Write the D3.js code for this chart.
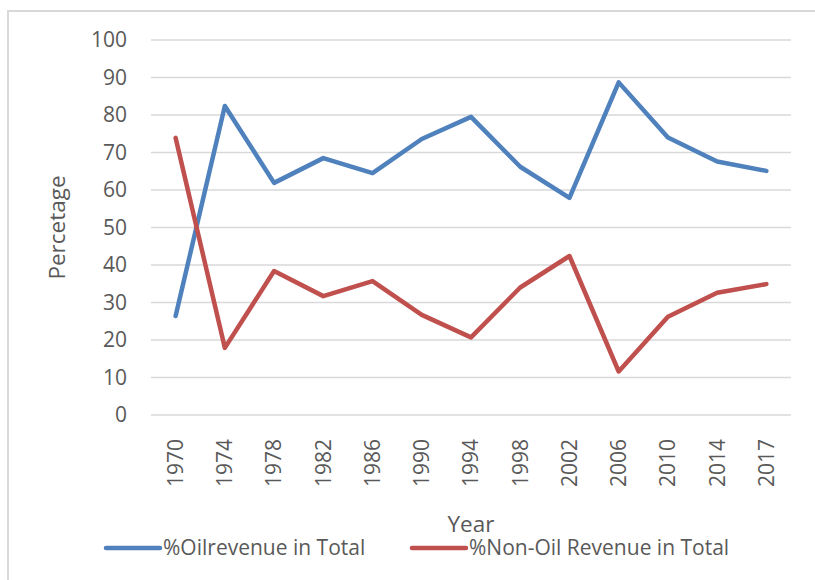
<!DOCTYPE html>
<meta charset="utf-8">
<style>
  body { margin: 0; background: #fff; }
  svg { font-family: "Open Sans", sans-serif; }
  .grid line { stroke: #d9d9d9; stroke-width: 1.3; }
  .tick-label { fill: #595959; font-size: 21px; }
  .line { fill: none; stroke-width: 4.5; stroke-linejoin: round; stroke-linecap: round; }
</style>
<svg width="815" height="580"></svg>
<script src="https://d3js.org/d3.v7.min.js"></script>
<script>

  var years = ["1970", "1974", "1978", "1982", "1986", "1990", "1994", "1998", "2002", "2006", "2010", "2014", "2017"];
  var oilShare = [26.4, 82.4, 61.9, 68.5, 64.5, 73.6, 79.5, 66.2, 57.9, 88.7, 74.0, 67.6, 65.1];
  var nonOilShare = [73.9, 17.9, 38.4, 31.7, 35.7, 26.7, 20.7, 34.0, 42.4, 11.6, 26.2, 32.6, 34.9];
  var yTicks = [0, 10, 20, 30, 40, 50, 60, 70, 80, 90, 100];
  var seriesNames = ["%Oilrevenue in Total", "%Non-Oil Revenue in Total"];
  var colors = ["#4f81bd", "#c0504d"];

  var svg = d3.select("svg");

  var plot = {left: 151, right: 791, top: 40, bottom: 415};

  var x = d3.scalePoint().domain(years).range([plot.left, plot.right]).padding(0.5),
      y = d3.scaleLinear().domain([0, 100]).range([plot.bottom, plot.top]);

  // chart area border
  svg.append("rect")
    .attr("x", 8).attr("y", 11)
    .attr("width", 840).attr("height", 600)
    .attr("fill", "none")
    .attr("stroke", "#d9d9d9")
    .attr("stroke-width", 2);

  // horizontal gridlines
  svg.append("g")
    .attr("class", "grid")
    .selectAll("line")
    .data(yTicks)
    .enter().append("line")
    .attr("x1", plot.left).attr("x2", plot.right)
    .attr("y1", function(d) { return y(d); })
    .attr("y2", function(d) { return y(d); });

  // y tick labels
  svg.append("g")
    .selectAll("text")
    .data(yTicks)
    .enter().append("text")
    .attr("class", "tick-label")
    .attr("x", 127)
    .attr("y", function(d) { return y(d); })
    .attr("dy", "0.35em")
    .attr("text-anchor", "end")
    .text(function(d) { return d; });

  // x tick labels, rotated
  svg.append("g")
    .selectAll("text")
    .data(years)
    .enter().append("text")
    .attr("class", "tick-label")
    .attr("transform", function(d) { return "translate(" + x(d) + ",439) rotate(-90)"; })
    .attr("dy", "0.35em")
    .attr("text-anchor", "end")
    .text(function(d) { return d; });

  // axis titles
  svg.append("text")
    .attr("class", "tick-label")
    .attr("x", (plot.left + plot.right) / 2)
    .attr("y", 532)
    .attr("text-anchor", "middle")
    .style("font-size", "22.5px")
    .text("Year");

  svg.append("text")
    .attr("class", "tick-label")
    .attr("transform", "translate(65," + ((plot.top + plot.bottom) / 2) + ") rotate(-90)")
    .attr("text-anchor", "middle")
    .style("font-size", "22.5px")
    .text("Percetage");

  // lines
  var line = d3.line()
    .x(function(d, i) { return x(years[i]); })
    .y(function(d) { return y(d); });

  [oilShare, nonOilShare].forEach(function(vals, i) {
    svg.append("path")
      .datum(vals)
      .attr("class", "line")
      .attr("stroke", colors[i])
      .attr("d", line);
  });

  // legend
  var legendX = [106, 412];
  var legend = svg.append("g").selectAll("g")
    .data(seriesNames)
    .enter().append("g")
    .attr("transform", function(d, i) { return "translate(" + legendX[i] + ",548)"; });

  legend.append("line")
    .attr("x1", 0).attr("x2", 54)
    .attr("stroke", function(d, i) { return colors[i]; })
    .attr("stroke-width", 4.5)
    .attr("stroke-linecap", "round");

  legend.append("text")
    .attr("class", "tick-label")
    .attr("x", 57)
    .attr("dy", "0.35em")
    .text(function(d) { return d; });

</script>
